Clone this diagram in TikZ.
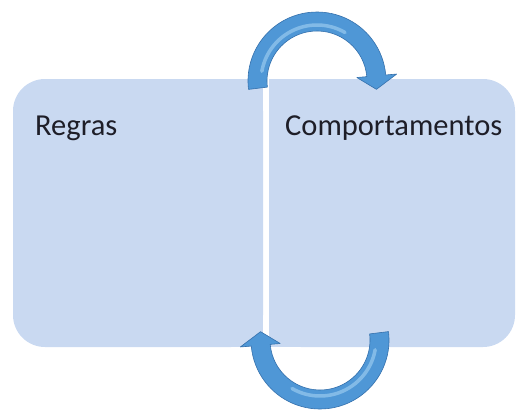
\documentclass[tikz,border=0pt]{standalone}
\usepackage{fontspec}
\setmainfont{Carlito}

\definecolor{panelblue}{RGB}{201,217,241}
\definecolor{arrowblue}{RGB}{79,151,214}
\definecolor{arrowdark}{RGB}{52,112,172}
\definecolor{arrowlight}{RGB}{172,216,246}
\definecolor{textgray}{RGB}{30,30,40}

\begin{document}
\begin{tikzpicture}[x=1pt,y=-1pt]
\useasboundingbox (0,0) rectangle (518,412);

% Define styles
\tikzstyle{panel} = [fill=panelblue]
\tikzstyle{textlabel} = [anchor=base west, inner sep=0pt, text=textgray, font=\fontsize{30.5}{36}\selectfont]
\tikzstyle{cyclearrow} = [fill=arrowblue, draw=arrowdark, line width=0.6pt, line join=round]
\tikzstyle{shine} = [draw=arrowlight, line width=3.5pt, line cap=round, opacity=0.55]

% Panels (outer corners rounded only)
\fill[panel, rounded corners=32pt] (13,79) rectangle (263,347);
\fill[panel] (150,79) rectangle (263,347);
\fill[panel, rounded corners=32pt] (269,79) rectangle (515,347);
\fill[panel] (269,79) rectangle (400,347);

% Texts
\node (regras) [textlabel] at (35,135) {Regras};
\node (comport) [textlabel] at (285,135) {Comportamentos};

% Curved arrows
\coordinate (topturn) at (317,81);
\coordinate (botturn) at (320,340);
\foreach \ctr/\rot in {topturn/0, botturn/180} {
  \begin{scope}[shift={(\ctr)}, rotate=\rot]
    \fill[cyclearrow] (173:69) arc[start angle=173, end angle=355, radius=69]
      -- (355:80) -- (8:60) -- (355:40) -- (355:50)
      arc[start angle=355, end angle=173, radius=50] -- cycle;
    \draw[shine] (190:56) arc[start angle=190, end angle=300, radius=56];
  \end{scope}
}
\end{tikzpicture}
\end{document}
